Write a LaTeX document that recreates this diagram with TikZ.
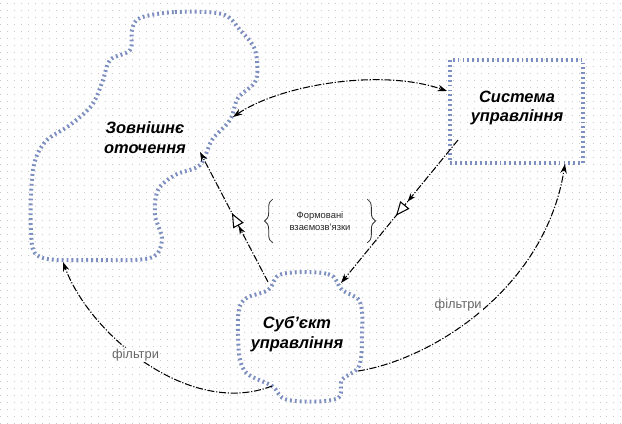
\documentclass[tikz,border=0pt]{standalone}
\usepackage{fontspec}
\setmainfont{Liberation Sans}
\usetikzlibrary{arrows.meta,decorations.markings,decorations.pathreplacing}

\definecolor{dotblue}{RGB}{125,142,192}
\definecolor{griddot}{RGB}{200,200,200}

\tikzstyle{outline} = [draw=dotblue, line width=3.4pt, dash pattern=on 1.6pt off 2.6pt]
\tikzstyle{title} = [font=\fontsize{14}{17}\selectfont\bfseries\itshape, align=center, text=black]
\tikzstyle{filter} = [font=\fontsize{11}{13}\selectfont, text=black!60, fill=white, inner sep=1pt]
\tikzstyle{link} = [black, line width=0.9pt, dash pattern=on 6pt off 1.5pt on 1pt off 1.5pt]
\tikzstyle{tip} = [-{Stealth[length=8pt,width=5.5pt]}]
\tikzstyle{twotips} = [{Stealth[length=8pt,width=5.5pt]}-{Stealth[length=8pt,width=5.5pt]}]
\tikzstyle{midflow} = [postaction={decorate}, decoration={markings,
  mark=at position 0.43 with {\arrow[solid]{Stealth[length=7pt,width=5pt]}},
  mark=at position 0.53 with {\arrow[solid]{Triangle[length=12pt,width=10pt,fill=white]}}}]
\tikzstyle{bracket} = [draw=black!80, line width=0.7pt, decorate, decoration={brace, amplitude=7pt}]

\begin{document}
\begin{tikzpicture}[x=0.03cm, y=-0.03cm]

 \useasboundingbox (0,0) rectangle (622,423);
 \fill[white] (0,0) rectangle (622,423);
 % dotted paper
 \foreach \row in {3,10,...,423}
   \draw[griddot, line width=0.8pt, dash pattern=on 0.8pt off 5.15pt] (0,\row) -- (622,\row);

 % outlines
 \draw[outline] plot[smooth cycle, tension=0.55] coordinates {
   (140,18) (175,12) (222,14) (240,30) (255,50) (256,80) (238,98) (230,120)
   (212,140) (200,165) (175,175) (158,190) (155,215) (162,240) (150,258)
   (95,260) (40,257) (31,230) (33,170) (45,142) (70,125) (92,105) (103,80)
   (110,60) (130,50) (132,30)};
 \draw[outline, line width=2.8pt] (450,60) rectangle (583,163);
 \draw[outline] plot[smooth cycle, tension=0.6] coordinates {
   (282,274) (328,274) (342,290) (360,302) (362,335) (359,366) (342,380)
   (336,399) (288,400) (272,386) (244,370) (238,335) (242,302) (268,290)};

 % labels
 \node[title] (env) at (145,138) {Зовнішнє\\оточення};
 \node[title] (sys) at (517,108) {Система\\управління};
 \node[title] (subj) at (297,334) {Суб'єкт\\управління};
 \node[font=\fontsize{8}{10}\selectfont, text=black!85, align=center,
   minimum width=2.75cm, minimum height=1.3cm] (fb) at (320,221) {Формовані\\взаємозв'язки};
 \draw[bracket] ([xshift=-1pt]fb.south west) -- ([xshift=-1pt]fb.north west);
 \draw[bracket] ([xshift=1pt]fb.north east) -- ([xshift=1pt]fb.south east);

 % connection points
 \coordinate (env-r) at (233,117);
 \coordinate (env-t) at (200,152);
 \coordinate (env-b) at (63,262);
 \coordinate (sys-l) at (447,91);
 \coordinate (sys-in) at (458,140);
 \coordinate (sys-b) at (565,164);
 \coordinate (subj-tl) at (268,282);
 \coordinate (subj-tr) at (341,283);
 \coordinate (subj-bl) at (272,386);
 \coordinate (subj-r) at (358,371);

 % connectors
 \draw[link, twotips] (env-r) .. controls (280,85) and (380,68) .. (sys-l);
 \draw[link, tip, midflow] (subj-tl) -- (env-t);
 \draw[link, tip, midflow] (sys-in) -- (subj-tr);
 \draw[link, tip] (subj-bl) .. controls (190,418) and (90,335) .. (env-b)
   node[filter, pos=0.55] (f1) {фільтри};
 \draw[link, tip] (subj-r) .. controls (430,360) and (545,290) .. (sys-b)
   node[filter, pos=0.5, above left=-2pt] (f2) {фільтри};

\end{tikzpicture}
\end{document}
